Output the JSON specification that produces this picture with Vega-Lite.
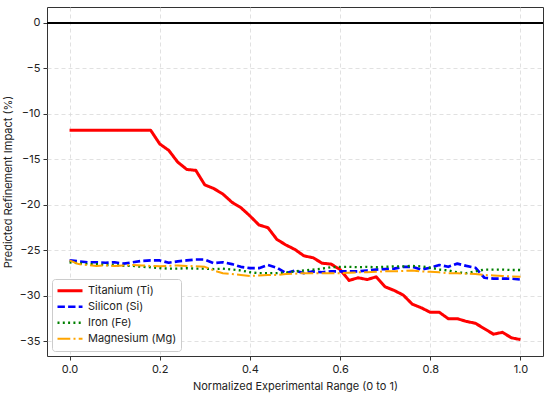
{
  "$schema": "https://vega.github.io/schema/vega-lite/v6.json",
  "autosize": {"type": "none"},
  "width": 496,
  "height": 349,
  "padding": {"left": 47, "top": 7, "right": 7, "bottom": 39},
  "background": "white",
  "config": {
    "font": "Inter",
    "view": {"stroke": "#333333", "strokeWidth": 1},
    "axis": {
      "domain": false,
      "grid": true,
      "gridColor": "#d9d9d9",
      "gridDash": [4, 3],
      "gridWidth": 0.8,
      "tickColor": "#333333",
      "tickSize": 4,
      "labelFontSize": 11,
      "labelColor": "#222222",
      "titleFontSize": 11,
      "titleFontWeight": "normal",
      "titleColor": "#222222",
      "labelPadding": 3
    }
  },
  "data": {
    "values": [
      {"x": 0.00, "Titanium (Ti)": -11.8, "Silicon (Si)": -26.1, "Iron (Fe)": -26.3, "Magnesium (Mg)": -26.1},
      {"x": 0.02, "Titanium (Ti)": -11.8, "Silicon (Si)": -26.2, "Iron (Fe)": -26.4, "Magnesium (Mg)": -26.5},
      {"x": 0.04, "Titanium (Ti)": -11.8, "Silicon (Si)": -26.3, "Iron (Fe)": -26.5, "Magnesium (Mg)": -26.6},
      {"x": 0.06, "Titanium (Ti)": -11.8, "Silicon (Si)": -26.3, "Iron (Fe)": -26.5, "Magnesium (Mg)": -26.7},
      {"x": 0.08, "Titanium (Ti)": -11.8, "Silicon (Si)": -26.35, "Iron (Fe)": -26.6, "Magnesium (Mg)": -26.65},
      {"x": 0.10, "Titanium (Ti)": -11.8, "Silicon (Si)": -26.3, "Iron (Fe)": -26.6, "Magnesium (Mg)": -26.7},
      {"x": 0.12, "Titanium (Ti)": -11.8, "Silicon (Si)": -26.45, "Iron (Fe)": -26.7, "Magnesium (Mg)": -26.65},
      {"x": 0.14, "Titanium (Ti)": -11.8, "Silicon (Si)": -26.3, "Iron (Fe)": -26.7, "Magnesium (Mg)": -26.6},
      {"x": 0.16, "Titanium (Ti)": -11.8, "Silicon (Si)": -26.15, "Iron (Fe)": -26.8, "Magnesium (Mg)": -26.65},
      {"x": 0.18, "Titanium (Ti)": -11.8, "Silicon (Si)": -26.1, "Iron (Fe)": -26.85, "Magnesium (Mg)": -26.7},
      {"x": 0.20, "Titanium (Ti)": -13.3, "Silicon (Si)": -26.1, "Iron (Fe)": -26.95, "Magnesium (Mg)": -26.75},
      {"x": 0.22, "Titanium (Ti)": -14.0, "Silicon (Si)": -26.35, "Iron (Fe)": -27.0, "Magnesium (Mg)": -26.7},
      {"x": 0.24, "Titanium (Ti)": -15.3, "Silicon (Si)": -26.2, "Iron (Fe)": -27.0, "Magnesium (Mg)": -26.65},
      {"x": 0.26, "Titanium (Ti)": -16.1, "Silicon (Si)": -26.1, "Iron (Fe)": -26.95, "Magnesium (Mg)": -26.7},
      {"x": 0.28, "Titanium (Ti)": -16.2, "Silicon (Si)": -26.0, "Iron (Fe)": -27.0, "Magnesium (Mg)": -26.75},
      {"x": 0.30, "Titanium (Ti)": -17.8, "Silicon (Si)": -26.0, "Iron (Fe)": -27.0, "Magnesium (Mg)": -26.8},
      {"x": 0.32, "Titanium (Ti)": -18.2, "Silicon (Si)": -26.4, "Iron (Fe)": -27.05, "Magnesium (Mg)": -27.2},
      {"x": 0.34, "Titanium (Ti)": -18.8, "Silicon (Si)": -26.3, "Iron (Fe)": -27.0, "Magnesium (Mg)": -27.5},
      {"x": 0.36, "Titanium (Ti)": -19.7, "Silicon (Si)": -26.5, "Iron (Fe)": -27.1, "Magnesium (Mg)": -27.6},
      {"x": 0.38, "Titanium (Ti)": -20.3, "Silicon (Si)": -26.8, "Iron (Fe)": -27.2, "Magnesium (Mg)": -27.7},
      {"x": 0.40, "Titanium (Ti)": -21.2, "Silicon (Si)": -26.95, "Iron (Fe)": -27.4, "Magnesium (Mg)": -27.8},
      {"x": 0.42, "Titanium (Ti)": -22.2, "Silicon (Si)": -26.95, "Iron (Fe)": -27.5, "Magnesium (Mg)": -27.75},
      {"x": 0.44, "Titanium (Ti)": -22.5, "Silicon (Si)": -26.6, "Iron (Fe)": -27.5, "Magnesium (Mg)": -27.7},
      {"x": 0.46, "Titanium (Ti)": -23.8, "Silicon (Si)": -26.9, "Iron (Fe)": -27.5, "Magnesium (Mg)": -27.7},
      {"x": 0.48, "Titanium (Ti)": -24.4, "Silicon (Si)": -27.5, "Iron (Fe)": -27.45, "Magnesium (Mg)": -27.6},
      {"x": 0.50, "Titanium (Ti)": -24.9, "Silicon (Si)": -27.2, "Iron (Fe)": -27.3, "Magnesium (Mg)": -27.55},
      {"x": 0.52, "Titanium (Ti)": -25.6, "Silicon (Si)": -27.5, "Iron (Fe)": -27.2, "Magnesium (Mg)": -27.5},
      {"x": 0.54, "Titanium (Ti)": -25.8, "Silicon (Si)": -27.3, "Iron (Fe)": -27.1, "Magnesium (Mg)": -27.5},
      {"x": 0.56, "Titanium (Ti)": -26.4, "Silicon (Si)": -27.4, "Iron (Fe)": -27.0, "Magnesium (Mg)": -27.5},
      {"x": 0.58, "Titanium (Ti)": -26.5, "Silicon (Si)": -27.3, "Iron (Fe)": -26.85, "Magnesium (Mg)": -27.5},
      {"x": 0.60, "Titanium (Ti)": -27.1, "Silicon (Si)": -27.3, "Iron (Fe)": -26.8, "Magnesium (Mg)": -27.5},
      {"x": 0.62, "Titanium (Ti)": -28.3, "Silicon (Si)": -27.3, "Iron (Fe)": -26.8, "Magnesium (Mg)": -27.45},
      {"x": 0.64, "Titanium (Ti)": -28.0, "Silicon (Si)": -27.3, "Iron (Fe)": -26.85, "Magnesium (Mg)": -27.4},
      {"x": 0.66, "Titanium (Ti)": -28.2, "Silicon (Si)": -27.2, "Iron (Fe)": -26.8, "Magnesium (Mg)": -27.4},
      {"x": 0.68, "Titanium (Ti)": -27.9, "Silicon (Si)": -27.1, "Iron (Fe)": -26.85, "Magnesium (Mg)": -27.35},
      {"x": 0.70, "Titanium (Ti)": -29.0, "Silicon (Si)": -27.05, "Iron (Fe)": -26.8, "Magnesium (Mg)": -27.3},
      {"x": 0.72, "Titanium (Ti)": -29.4, "Silicon (Si)": -27.0, "Iron (Fe)": -26.75, "Magnesium (Mg)": -27.3},
      {"x": 0.74, "Titanium (Ti)": -29.9, "Silicon (Si)": -26.8, "Iron (Fe)": -26.75, "Magnesium (Mg)": -27.25},
      {"x": 0.76, "Titanium (Ti)": -30.9, "Silicon (Si)": -26.8, "Iron (Fe)": -26.7, "Magnesium (Mg)": -27.2},
      {"x": 0.78, "Titanium (Ti)": -31.3, "Silicon (Si)": -27.1, "Iron (Fe)": -26.75, "Magnesium (Mg)": -27.3},
      {"x": 0.80, "Titanium (Ti)": -31.8, "Silicon (Si)": -26.9, "Iron (Fe)": -26.9, "Magnesium (Mg)": -27.35},
      {"x": 0.82, "Titanium (Ti)": -31.8, "Silicon (Si)": -26.6, "Iron (Fe)": -27.1, "Magnesium (Mg)": -27.4},
      {"x": 0.84, "Titanium (Ti)": -32.5, "Silicon (Si)": -26.8, "Iron (Fe)": -27.2, "Magnesium (Mg)": -27.5},
      {"x": 0.86, "Titanium (Ti)": -32.5, "Silicon (Si)": -26.45, "Iron (Fe)": -27.4, "Magnesium (Mg)": -27.5},
      {"x": 0.88, "Titanium (Ti)": -32.8, "Silicon (Si)": -26.7, "Iron (Fe)": -27.5, "Magnesium (Mg)": -27.55},
      {"x": 0.90, "Titanium (Ti)": -33.0, "Silicon (Si)": -26.9, "Iron (Fe)": -27.3, "Magnesium (Mg)": -27.6},
      {"x": 0.92, "Titanium (Ti)": -33.6, "Silicon (Si)": -28.0, "Iron (Fe)": -27.1, "Magnesium (Mg)": -27.7},
      {"x": 0.94, "Titanium (Ti)": -34.2, "Silicon (Si)": -28.1, "Iron (Fe)": -27.1, "Magnesium (Mg)": -27.75},
      {"x": 0.96, "Titanium (Ti)": -34.0, "Silicon (Si)": -28.1, "Iron (Fe)": -27.1, "Magnesium (Mg)": -27.8},
      {"x": 0.98, "Titanium (Ti)": -34.6, "Silicon (Si)": -28.1, "Iron (Fe)": -27.15, "Magnesium (Mg)": -27.85},
      {"x": 1.00, "Titanium (Ti)": -34.8, "Silicon (Si)": -28.2, "Iron (Fe)": -27.15, "Magnesium (Mg)": -27.9}
    ]
  },
  "layer": [
    {
      "mark": {"type": "rule", "color": "black", "strokeWidth": 1},
      "encoding": {"y": {"datum": 0, "type": "quantitative"}}
    },
    {
      "transform": [
        {"fold": ["Titanium (Ti)", "Silicon (Si)", "Iron (Fe)", "Magnesium (Mg)"], "as": ["series", "value"]}
      ],
      "mark": {"type": "line", "strokeCap": "butt", "strokeJoin": "round"},
      "encoding": {
        "x": {
          "field": "x", "type": "quantitative",
          "scale": {"domain": [-0.05, 1.05], "nice": false, "zero": false},
          "axis": {"values": [0, 0.2, 0.4, 0.6, 0.8, 1.0], "format": ".1f", "title": "Normalized Experimental Range (0 to 1)", "titlePadding": 6}
        },
        "y": {
          "field": "value", "type": "quantitative",
          "scale": {"domain": [-36.6, 1.75], "nice": false, "zero": false},
          "axis": {"values": [0, -5, -10, -15, -20, -25, -30, -35], "title": "Predicted Refinement Impact (%)", "titlePadding": 6}
        },
        "color": {
          "field": "series", "type": "nominal",
          "scale": {"domain": ["Titanium (Ti)", "Silicon (Si)", "Iron (Fe)", "Magnesium (Mg)"], "range": ["#ff0000", "#0000ff", "#008000", "#ffa500"]},
          "legend": {
            "title": null, "orient": "bottom-left", "offset": 5,
            "symbolType": "stroke", "symbolSize": 625, "symbolStrokeWidth": 2,
            "clipHeight": 15.5, "rowPadding": 0,
            "labelFontSize": 11, "labelColor": "#222222", "labelOffset": 4,
            "fillColor": "white", "strokeColor": "#cccccc", "padding": 4, "cornerRadius": 3
          }
        },
        "strokeDash": {
          "field": "series", "type": "nominal",
          "scale": {"domain": ["Titanium (Ti)", "Silicon (Si)", "Iron (Fe)", "Magnesium (Mg)"], "range": [[1, 0], [7.4, 3.2], [2, 3.3], [12.8, 3.2, 2, 3.2]]},
          "legend": {"title": null}
        },
        "strokeWidth": {
          "field": "series", "type": "nominal",
          "scale": {"domain": ["Titanium (Ti)", "Silicon (Si)", "Iron (Fe)", "Magnesium (Mg)"], "range": [3, 2, 2, 2]},
          "legend": null
        }
      }
    }
  ]
}
